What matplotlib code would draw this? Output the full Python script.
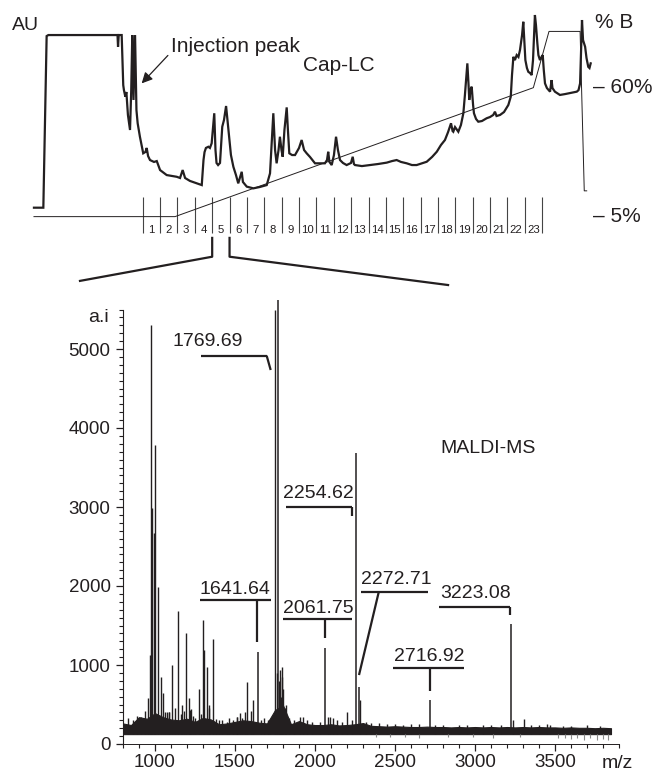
import matplotlib
matplotlib.use("Agg")
import matplotlib.pyplot as plt
from matplotlib.ticker import FixedLocator, MultipleLocator

plt.rcParams['font.family'] = ['Liberation Sans', 'DejaVu Sans']
ink = '#231f20'

# Cap-LC run: retention time (min) vs absorbance (AU, 1.0 = detector saturation)
lc_time = [3.74, 4.28, 4.47, 4.57, 8.55, 8.58, 8.62, 8.79, 8.88, 8.92, 9.00, 9.06, 9.15, 9.27, 9.34,
           9.40, 9.47, 9.56, 9.64, 9.71, 9.84, 10.03, 10.16, 10.23, 10.31, 10.42, 10.65, 10.81, 11.00,
           11.38, 11.69, 11.96, 12.15, 12.30, 12.44, 12.72, 13.40, 13.50, 13.56, 13.64, 13.78, 13.87,
           13.97, 14.12, 14.19, 14.25, 14.34, 14.45, 14.58, 14.68, 14.80, 14.88, 14.99, 15.08, 15.22,
           15.37, 15.50, 15.70, 15.77, 15.99, 16.37, 16.75, 17.14, 17.33, 17.52, 17.62, 17.71, 17.82,
           17.90, 17.99, 18.06, 18.16, 18.29, 18.36, 18.44, 18.60, 18.77, 19.00, 19.15, 19.29, 19.44,
           19.63, 19.92, 20.21, 20.49, 20.61, 20.68, 20.75, 20.88, 21.01, 21.13, 21.24, 21.36, 21.53,
           21.74, 21.99, 22.09, 22.16, 22.22, 22.62, 23.09, 23.55, 24.05, 24.35, 24.62, 24.87, 25.20,
           25.50, 25.77, 26.08, 26.35, 26.66, 26.93, 27.17, 27.40, 27.58, 27.75, 27.84, 27.88, 27.98,
           28.17, 28.32, 28.46, 28.55, 28.69, 28.76, 28.80, 28.87, 28.94, 29.02, 29.07, 29.19, 29.32,
           29.53, 29.80, 29.99, 30.18, 30.28, 30.37, 30.57, 30.80, 31.05, 31.19, 31.26, 31.34, 31.43,
           31.53, 31.63, 31.72, 31.84, 31.91, 31.98, 32.03, 32.12, 32.20, 32.30, 32.39, 32.47, 32.54,
           32.58, 32.64, 32.72, 32.78, 32.87, 32.96, 33.03, 33.09, 33.16, 33.27, 33.45, 33.50, 33.54,
           33.59, 33.73, 34.02, 34.31, 34.60, 34.99, 35.09, 35.18, 35.24, 35.29, 35.35, 35.47, 35.55,
           35.65, 35.72, 35.79]
lc_au = [0, 0, 0.994, 1.0, 1.0, 0.932, 1.0, 1.0, 0.710, 0.681, 0.643, 0.670, 0.537, 0.450, 0.681,
         1.0, 0.624, 1.0, 0.565, 0.489, 0.411, 0.315, 0.323, 0.346, 0.299, 0.276, 0.265, 0.270, 0.218,
         0.189, 0.184, 0.179, 0.172, 0.218, 0.172, 0.155, 0.131, 0.276, 0.322, 0.346, 0.353, 0.346,
         0.373, 0.547, 0.334, 0.259, 0.247, 0.259, 0.469, 0.508, 0.589, 0.508, 0.392, 0.305, 0.237,
         0.189, 0.141, 0.208, 0.149, 0.122, 0.112, 0.120, 0.131, 0.199, 0.547, 0.334, 0.257, 0.334,
         0.411, 0.334, 0.295, 0.450, 0.581, 0.450, 0.315, 0.305, 0.305, 0.346, 0.392, 0.334, 0.315,
         0.294, 0.257, 0.257, 0.257, 0.276, 0.324, 0.265, 0.247, 0.305, 0.411, 0.334, 0.276, 0.259,
         0.247, 0.259, 0.295, 0.253, 0.247, 0.241, 0.247, 0.253, 0.261, 0.270, 0.276, 0.265, 0.257,
         0.247, 0.247, 0.257, 0.266, 0.294, 0.324, 0.363, 0.392, 0.438, 0.489, 0.444, 0.440, 0.467,
         0.440, 0.479, 0.547, 0.653, 0.836, 0.710, 0.624, 0.681, 0.701, 0.595, 0.547, 0.514, 0.498,
         0.502, 0.518, 0.525, 0.537, 0.556, 0.531, 0.537, 0.554, 0.595, 0.643, 0.768, 0.874, 0.855,
         0.884, 0.873, 0.913, 1.0, 1.077, 0.942, 0.855, 0.809, 0.787, 0.780, 0.768, 0.855, 1.029,
         1.116, 1.058, 0.952, 0.884, 0.855, 0.873, 0.884, 0.797, 0.720, 0.693, 0.672, 0.710, 0.739,
         0.693, 0.672, 0.653, 0.658, 0.664, 0.672, 0.681, 0.720, 0.913, 1.087, 0.971, 0.932, 0.867,
         0.816, 0.809, 0.836]

# solvent B gradient program
grad_time = [3.74, 11.86, 32.49, 33.39, 35.18, 35.42, 35.56]
grad_b = [5, 5, 60, 84, 84, 16, 16]

# collected fractions, one per minute
fraction_edges = list(range(10, 34))
fraction_labels = [str(i) for i in range(1, 24)]
picked_fraction = 5

# MALDI-MS of fraction 5
noise_mz = list(range(800, 3851, 50))
noise_hi = [260, 240, 340, 320, 390, 340, 310, 300, 320, 280, 330, 310, 250, 260, 280, 300, 290,
            270, 260, 430, 490, 250, 290, 250, 240, 240, 250, 235, 240, 250, 265, 230, 225, 220,
            225, 220, 215, 215, 220, 215, 215, 210, 215, 210, 215, 210, 215, 210, 215, 210, 215,
            210, 215, 210, 210, 205, 210, 205, 205, 200, 205, 200]
noise_floor = 125

peak_mz = [830, 860, 886, 915, 940, 958, 968, 973, 979, 996, 1000, 1020, 1036, 1048, 1060, 1073,
           1085, 1089, 1104, 1125, 1142, 1160, 1167, 1180, 1194, 1210, 1219, 1223, 1240, 1250,
           1273, 1285, 1302, 1308, 1327, 1337, 1340, 1360, 1380, 1400, 1420, 1448, 1460, 1490,
           1510, 1514, 1531, 1545, 1560, 1577, 1600, 1615, 1660, 1680, 1705, 1720, 1750, 1760,
           1775, 1781, 1785, 1792, 1795, 1800, 1810, 1820, 1840, 1870, 1906, 1927, 1950, 1980,
           2030, 2083, 2094, 2110, 2140, 2170, 2198, 2230, 2280, 2320, 2350, 2400, 2450, 2500,
           2550, 2600, 2650, 2750, 2800, 2900, 2950, 3050, 3100, 3160, 3240, 3306, 3350, 3400,
           3450, 3469, 3550, 3600, 3700, 3780]
peak_int = [330, 300, 354, 340, 420, 577, 1130, 5300, 2990, 2670, 3780, 1990, 844, 642, 410, 409,
            400, 409, 996, 450, 1680, 380, 494, 420, 1409, 580, 430, 439, 360, 330,
            696, 380, 1570, 1190, 978, 494, 460, 1329, 320, 300, 300, 283, 330, 300,
            346, 345, 388, 330, 400, 789, 420, 557, 300, 330, 300, 320, 5500, 900,
            800, 937, 600, 978, 850, 700, 450, 500, 330, 300, 345, 345, 300, 280,
            280, 346, 345, 330, 300, 280, 410, 300, 560, 280, 260, 260, 250, 253,
            240, 250, 250, 245, 240, 240, 235, 240, 235, 240, 300, 316, 240, 235,
            250, 240, 230, 230, 235, 230]

# dips of the noise below the baseline at high m/z
dip_mz = [2380, 2470, 2560, 2650, 2830, 2990, 3110, 3280, 3520, 3560, 3600, 3640, 3680, 3720,
          3760, 3800, 3830]
dip_int = [90, 85, 90, 80, 85, 90, 80, 85, 70, 80, 60, 75, 55, 70, 50, 60, 45]

labeled_mz = [1641.64, 1769.69, 2061.75, 2254.62, 2272.71, 2716.92, 3223.08]
labeled_int = [1160, 5620, 1215, 3680, 725, 557, 1520]

# label brackets: text (left, y), bar (x0, x1, y), leader line to the peak
brackets = {
    1641.64: dict(text=(1277, 1956), bar=(1281, 1723, 1823), lead=[(1640, 1823), (1640, 1295)]),
    1769.69: dict(text=(1112, 5089), bar=(1288, 1698, 4915), lead=[(1698, 4915), (1723, 4734)]),
    2061.75: dict(text=(1798, 1715), bar=(1798, 2229, 1582), lead=[(2062, 1582), (2062, 1338)]),
    2254.62: dict(text=(1798, 3177), bar=(1817, 2229, 3000), lead=[(2229, 3000), (2229, 2890)]),
    2272.71: dict(text=(2289, 2076), bar=(2287, 2706, 1920), lead=[(2398, 1920), (2275, 873)]),
    2716.92: dict(text=(2494, 1105), bar=(2488, 2933, 966), lead=[(2717, 966), (2717, 675)]),
    3223.08: dict(text=(2781, 1908), bar=(2775, 3219, 1738), lead=[(3219, 1738), (3219, 1633)]),
}

fig = plt.figure(figsize=(6.52, 7.72), dpi=100)

# ---------- chromatogram ----------
ax_lc = fig.add_axes([0, 512 / 772, 1, 260 / 772])
ax_lc.set_xlim(1.785, 39.32)
ax_lc.set_ylim(-0.303, 1.203)
ax_lc.axis('off')
ax_b = ax_lc.twinx()
ax_b.set_ylim(-13.5, 97.4)
ax_b.axis('off')

ax_lc.plot(lc_time, lc_au, color=ink, lw=1.6, solid_joinstyle='miter')
ax_b.plot(grad_time, grad_b, color=ink, lw=0.7)

ax_lc.vlines(fraction_edges, -0.145, 0.062, color='#444444', lw=0.8)
for edge, lab in zip(fraction_edges, fraction_labels):
    ax_lc.text(edge + 0.5, -0.129, lab, ha='center', va='center', fontsize=8.2, color=ink)

# zoom lines from the picked fraction down to the spectrum
f0 = fraction_edges[picked_fraction - 1]
f1 = fraction_edges[picked_fraction]
ax_lc.plot([6.39, f0, f0], [-0.424, -0.284, -0.175], color=ink, lw=1.6, clip_on=False)
ax_lc.plot([f1, f1, 27.58], [-0.175, -0.284, -0.448], color=ink, lw=1.6, clip_on=False)

fig.text(12 / 652, 1 - 25 / 772, 'AU', fontsize=14, va='center', color=ink)
ax_lc.annotate('Injection peak', xy=(9.94, 0.72), xytext=(11.61, 0.932),
               fontsize=15, va='center', ha='left', color=ink,
               arrowprops=dict(arrowstyle='-|>', color=ink, lw=0.9, mutation_scale=16,
                               shrinkA=0, shrinkB=0, relpos=(0, 0.2)))
ax_lc.text(19.21, 0.826, 'Cap-LC', fontsize=15, va='center', color=ink)
ax_b.text(36.04, 87.6, '% B', fontsize=15, va='center', color=ink)
ax_b.text(35.93, 60, '– 60%', fontsize=15, va='center', color=ink)
ax_b.text(35.93, 5, '– 5%', fontsize=15, va='center', color=ink)

# ---------- MALDI spectrum ----------
ax = fig.add_axes([123 / 652, 28 / 772, 496 / 652, 446.35 / 772])
ax.set_xlim(800, 3900)
ax.set_ylim(0, 5650)
for s in ['top', 'right']:
    ax.spines[s].set_visible(False)
ax.spines['left'].set_bounds(0, 5500)
ax.spines['left'].set_color(ink)
ax.spines['bottom'].set_color(ink)
ax.spines['bottom'].set_linewidth(0.7)

ax.fill_between(noise_mz, noise_floor, noise_hi, color=ink, lw=0.8)
ax.vlines(dip_mz, dip_int, noise_floor, color='#8a8a8a', lw=0.8)
ax.vlines(peak_mz, noise_floor, peak_int, color=ink, lw=1.0)
ax.vlines(labeled_mz, noise_floor, labeled_int, color=ink, lw=1.1)

for mz in labeled_mz:
    b = brackets[mz]
    x0, x1, yb = b['bar']
    ax.plot([x0, x1], [yb, yb], color=ink, lw=1.6, solid_capstyle='butt')
    (lx0, ly0), (lx1, ly1) = b['lead']
    ax.plot([lx0, lx1], [ly0, ly1], color=ink, lw=1.6, solid_capstyle='butt')
    ax.text(b['text'][0], b['text'][1], f'{mz:.2f}', fontsize=14, va='center', ha='left', color=ink)

ax.text(3084, 3740, 'MALDI-MS', fontsize=14, ha='center', va='center', color=ink)

ax.xaxis.set_major_locator(FixedLocator([1000, 1500, 2000, 2500, 3000, 3500]))
ax.xaxis.set_minor_locator(FixedLocator(list(range(800, 3901, 100))))
ax.yaxis.set_major_locator(MultipleLocator(1000))
ax.yaxis.set_minor_locator(FixedLocator(list(range(0, 5501, 100))))
ax.tick_params(which='major', length=5, width=0.9, color=ink, labelsize=13.5, labelcolor=ink)
ax.tick_params(which='minor', length=2.6, width=0.8, color=ink)
ax.tick_params(axis='x', which='major', pad=2.5)
ax.tick_params(axis='y', which='major', pad=4)

ax.text(-0.028, 5400, 'a.i', transform=ax.get_yaxis_transform(), ha='right', va='center',
        fontsize=14, color=ink)
ax.text(3990, -0.044, 'm/z', transform=ax.get_xaxis_transform(), ha='right', va='center',
        fontsize=14, color=ink)

fig.savefig('out.png', dpi=100)
